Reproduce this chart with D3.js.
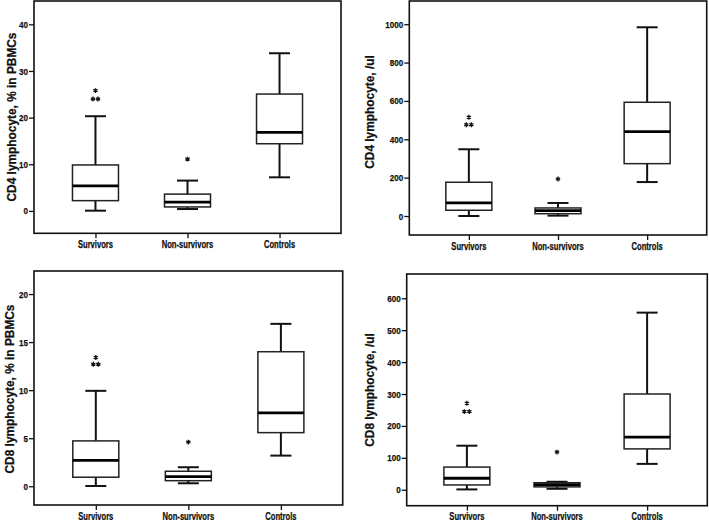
<!DOCTYPE html>
<html><head><meta charset="utf-8">
<script src="https://cdn.jsdelivr.net/npm/d3@7"></script>
<style>
html,body{margin:0;padding:0;background:#fff;}
svg{display:block;}
text{font-family:"Liberation Sans",Arial,sans-serif;font-weight:700;fill:#111;stroke:#111;stroke-width:0.25px;}
</style></head>
<body><svg id="chart" width="709" height="520"></svg>
<script>
// ---- data ----
const groups = ["Survivors", "Non-survivors", "Controls"];

// [lower whisker, Q1, median, Q3, upper whisker]
const cd4PctStats = [[0.05, 2.2, 5.35, 9.85, 20.3], [0.4, 0.85, 1.9, 3.6, 6.5], [7.2, 14.4, 16.85, 25.05, 33.8]];
const cd4PctOutliers = [[25.8, 24.0, 24.0], [11.1], []];
const cd4PctTicks = [0, 10, 20, 30, 40];
const cd4PctLabel = "CD4 lymphocyte, % in PBMCs";

const cd4AbsStats = [[0, 30, 69, 176, 348], [2, 12, 28, 42, 68], [177, 273, 440, 593, 984]];
const cd4AbsOutliers = [[515, 476, 476], [193], []];
const cd4AbsTicks = [0, 200, 400, 600, 800, 1000];
const cd4AbsLabel = "CD4 lymphocyte, /ul";

const cd8PctStats = [[0.03, 0.94, 2.7, 4.72, 9.93], [0.31, 0.58, 1.0, 1.56, 1.98], [3.19, 5.58, 7.63, 14.0, 16.9]];
const cd8PctOutliers = [[13.4, 12.7, 12.7], [4.6], []];
const cd8PctTicks = [0, 5, 10, 15, 20];
const cd8PctLabel = "CD8 lymphocyte, % in PBMCs";

const cd8AbsStats = [[1, 15, 36, 71, 138], [3, 9, 16, 22, 25], [81, 128, 165, 300, 555]];
const cd8AbsOutliers = [[271, 245, 245], [118], []];
const cd8AbsTicks = [0, 100, 200, 300, 400, 500, 600];
const cd8AbsLabel = "CD8 lymphocyte, /ul";

// ---- layout ----
const panels = [
  {stats: cd4PctStats, outliers: cd4PctOutliers, ticks: cd4PctTicks, label: cd4PctLabel,
   domain: [-4.8, 45], x0: 34, x1: 341, y0: 1, y1: 233.3, labelX: 12, labelY: 117, xlabY: 248},
  {stats: cd4AbsStats, outliers: cd4AbsOutliers, ticks: cd4AbsTicks, label: cd4AbsLabel,
   domain: [-99, 1121], x0: 409.3, x1: 706.7, y0: 1, y1: 235, labelX: 370, labelY: 112, xlabY: 249.5},
  {stats: cd8PctStats, outliers: cd8PctOutliers, ticks: cd8PctTicks, label: cd8PctLabel,
   domain: [-1.95, 22.4], x0: 34, x1: 342.7, y0: 271, y1: 505, labelX: 10, labelY: 389, xlabY: 519.5},
  {stats: cd8AbsStats, outliers: cd8AbsOutliers, ticks: cd8AbsTicks, label: cd8AbsLabel,
   domain: [-50, 676], x0: 406.7, x1: 707.3, y0: 274, y1: 505.7, labelX: 370, labelY: 390, xlabY: 519.5}
];

const svg = d3.select("#chart");
const boxW = 46, capW = 21;
const star = d3.symbol(d3.symbolAsterisk, 16);

function squeeze(sel, f) {
  sel.each(function () {
    const len = this.getComputedTextLength();
    d3.select(this).attr("textLength", len * f).attr("lengthAdjust", "spacingAndGlyphs");
  });
}

panels.forEach(p => {
  const g = svg.append("g");
  const x = d3.scalePoint().domain(groups).range([p.x0, p.x1]).padding(0.668);
  const y = d3.scaleLinear().domain(p.domain).range([p.y1, p.y0]);

  // y axis
  const ya = g.append("g").attr("transform", `translate(${p.x0},0)`)
    .call(d3.axisLeft(y).tickValues(p.ticks).tickSize(5).tickPadding(1).tickFormat(d3.format("d")));
  ya.select(".domain").remove();
  ya.selectAll("line").attr("stroke", "#111").attr("stroke-width", 1.3);
  ya.selectAll("text").attr("font-weight", 700).style("font-size", "9.5px").attr("fill", "#111");
  squeeze(ya.selectAll("text"), 0.85);

  // x axis
  const xa = g.append("g").attr("transform", `translate(0,${p.y1})`)
    .call(d3.axisBottom(x).tickSize(5).tickPadding(3));
  xa.select(".domain").remove();
  xa.selectAll("line").attr("stroke", "#111").attr("stroke-width", 1.3);
  xa.selectAll("text").remove();
  const xl = g.selectAll(".xlab").data(groups).enter().append("text")
    .attr("x", d => x(d)).attr("y", p.xlabY).attr("text-anchor", "middle")
    .style("font-size", "10px").text(d => d);
  squeeze(xl, 0.76);

  // frame
  g.append("rect").attr("x", p.x0).attr("y", p.y0)
    .attr("width", p.x1 - p.x0).attr("height", p.y1 - p.y0)
    .attr("fill", "none").attr("stroke", "#111").attr("stroke-width", 1.6);

  // y label
  const yl = g.append("text").attr("transform", `translate(${p.labelX},${p.labelY}) rotate(-90)`)
    .attr("text-anchor", "middle").attr("dy", "0.35em")
    .style("font-size", "12.5px").text(p.label);
  squeeze(yl, 0.95);

  // boxes
  groups.forEach((grp, i) => {
    const [lo, q1, med, q3, hi] = p.stats[i];
    const cx = x(grp);
    const bg = g.append("g");
    const seg = (x1, y1, x2, y2, w) => bg.append("line")
      .attr("x1", x1).attr("y1", y1).attr("x2", x2).attr("y2", y2)
      .attr("stroke", "#111").attr("stroke-width", w);
    seg(cx, y(q3), cx, y(hi), 2);
    seg(cx, y(q1), cx, y(lo), 2);
    seg(cx - capW / 2, y(hi), cx + capW / 2, y(hi), 2);
    seg(cx - capW / 2, y(lo), cx + capW / 2, y(lo), 2);
    bg.append("rect").attr("x", cx - boxW / 2).attr("y", y(q3))
      .attr("width", boxW).attr("height", Math.max(0.5, y(q1) - y(q3)))
      .attr("fill", "#fff").attr("stroke", "#222").attr("stroke-width", 1.5);
    seg(cx - boxW / 2, y(med), cx + boxW / 2, y(med), 2.8).attr("stroke", "#000");
    // extreme values drawn as asterisks; duplicates side by side
    const grouped = d3.rollups(p.outliers[i], v => v.length, d => d);
    grouped.forEach(([val, n]) => {
      d3.range(n).forEach(k => {
        const dx = (k - (n - 1) / 2) * 5;
        bg.append("path").attr("d", star)
          .attr("transform", `translate(${cx + dx},${y(val)})`)
          .attr("fill", "none").attr("stroke", "#111").attr("stroke-width", 1.3);
      });
    });
  });
});
</script></body></html>
